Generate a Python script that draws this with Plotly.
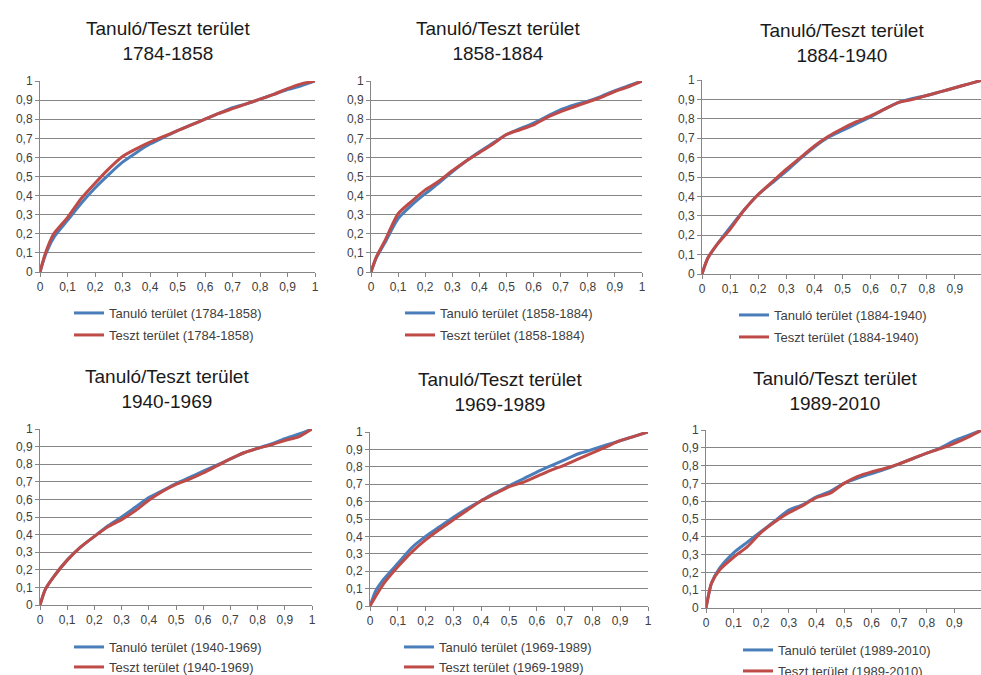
import plotly.graph_objects as go

# ---------------- data ----------------
X = [0, 0.02, 0.05, 0.1, 0.15, 0.2, 0.25, 0.3, 0.35, 0.4, 0.45, 0.5,
     0.55, 0.6, 0.65, 0.7, 0.75, 0.8, 0.85, 0.9, 0.95, 1]

periods = ["1784-1858", "1858-1884", "1884-1940", "1940-1969", "1969-1989", "1989-2010"]

tanulo_1784 = [0, 0.09, 0.18, 0.27, 0.36, 0.44, 0.51, 0.575, 0.625, 0.67, 0.705, 0.74,
               0.77, 0.80, 0.83, 0.86, 0.88, 0.905, 0.93, 0.955, 0.975, 1]
teszt_1784 = [0, 0.10, 0.20, 0.285, 0.385, 0.465, 0.54, 0.605, 0.645, 0.68, 0.71, 0.74,
              0.77, 0.80, 0.83, 0.855, 0.88, 0.905, 0.93, 0.96, 0.985, 1]

tanulo_1858 = [0, 0.075, 0.15, 0.28, 0.35, 0.41, 0.465, 0.525, 0.58, 0.63, 0.675, 0.72,
               0.75, 0.78, 0.815, 0.85, 0.875, 0.895, 0.92, 0.95, 0.975, 1]
teszt_1858 = [0, 0.08, 0.16, 0.305, 0.37, 0.43, 0.475, 0.53, 0.58, 0.625, 0.67, 0.72,
              0.745, 0.77, 0.81, 0.84, 0.865, 0.89, 0.915, 0.945, 0.97, 1]

tanulo_1884 = [0, 0.08, 0.145, 0.24, 0.33, 0.41, 0.47, 0.53, 0.595, 0.655, 0.705, 0.74,
               0.775, 0.81, 0.85, 0.885, 0.905, 0.92, 0.94, 0.96, 0.98, 1]
teszt_1884 = [0, 0.08, 0.145, 0.23, 0.33, 0.41, 0.475, 0.54, 0.60, 0.66, 0.71, 0.75,
              0.785, 0.815, 0.85, 0.885, 0.90, 0.92, 0.94, 0.96, 0.98, 1]

tanulo_1940 = [0, 0.09, 0.16, 0.255, 0.33, 0.39, 0.45, 0.50, 0.555, 0.61, 0.65, 0.69,
               0.725, 0.76, 0.795, 0.83, 0.865, 0.89, 0.915, 0.945, 0.97, 1]
teszt_1940 = [0, 0.09, 0.16, 0.255, 0.33, 0.39, 0.445, 0.485, 0.535, 0.595, 0.645, 0.685,
              0.715, 0.75, 0.79, 0.83, 0.865, 0.89, 0.91, 0.935, 0.955, 1]

tanulo_1969 = [0, 0.085, 0.155, 0.245, 0.335, 0.40, 0.455, 0.51, 0.56, 0.605, 0.65, 0.69,
               0.73, 0.77, 0.805, 0.84, 0.875, 0.90, 0.925, 0.95, 0.975, 1]
teszt_1969 = [0, 0.055, 0.13, 0.225, 0.31, 0.38, 0.44, 0.495, 0.55, 0.605, 0.645, 0.685,
              0.71, 0.745, 0.78, 0.81, 0.845, 0.88, 0.915, 0.95, 0.975, 1]

tanulo_1989 = [0, 0.14, 0.225, 0.31, 0.37, 0.43, 0.49, 0.55, 0.58, 0.625, 0.655, 0.70,
               0.73, 0.755, 0.78, 0.81, 0.84, 0.87, 0.90, 0.94, 0.97, 1]
teszt_1989 = [0, 0.14, 0.215, 0.285, 0.345, 0.425, 0.485, 0.535, 0.575, 0.62, 0.645, 0.70,
              0.74, 0.765, 0.785, 0.81, 0.84, 0.87, 0.895, 0.925, 0.96, 1]

tanulo_series = [tanulo_1784, tanulo_1858, tanulo_1884, tanulo_1940, tanulo_1969, tanulo_1989]
teszt_series = [teszt_1784, teszt_1858, teszt_1884, teszt_1940, teszt_1969, teszt_1989]

tick_vals = [0, 0.1, 0.2, 0.3, 0.4, 0.5, 0.6, 0.7, 0.8, 0.9, 1]
tick_text = ["0", "0,1", "0,2", "0,3", "0,4", "0,5", "0,6", "0,7", "0,8", "0,9", "1"]

# ---------------- layout (pixels) ----------------
W, H = 981, 675
# plot boxes: x at value 0, x at value 1, y at value 1, y at value 0
boxes = [
    (40, 315, 81, 272),
    (371, 642, 81, 272),
    (702, 983, 80, 274),
    (40, 312, 429, 605),
    (370, 648, 432, 606),
    (706, 982, 430, 608),
]
title_pos = [(168, 41), (498, 41), (842, 43), (167, 389), (500, 392), (835, 391)]
# legend: left x, centre y of first entry, centre y of second entry
legend_pos = [(69, 313, 335), (400, 313, 335), (734, 315, 337),
              (69, 647, 667), (399, 647, 667), (738, 650, 671)]

BLUE = "#4A7EBB"
RED = "#BE4B48"
GRID = "#868686"
FONT = "Liberation Sans, Arial, sans-serif"


def fx(px):
    return px / W


def fy(py):
    return 1 - py / H


fig = go.Figure()
annotations = []
layout_upd = {}
for i, (per, tan, tes) in enumerate(zip(periods, tanulo_series, teszt_series)):
    n = i + 1
    xa = "x" if n == 1 else f"x{n}"
    ya = "y" if n == 1 else f"y{n}"
    lg_a = "legend" if i == 0 else f"legend{2 * i + 1}"
    lg_b = f"legend{2 * i + 2}"
    fig.add_trace(go.Scatter(x=X, y=tan, mode="lines", name=f"Tanuló terület ({per})",
                             line=dict(color=BLUE, width=3, shape="spline", smoothing=0.6),
                             xaxis=xa, yaxis=ya, legend=lg_a))
    fig.add_trace(go.Scatter(x=X, y=tes, mode="lines", name=f"Teszt terület ({per})",
                             line=dict(color=RED, width=3, shape="spline", smoothing=0.6),
                             xaxis=xa, yaxis=ya, legend=lg_b))

    x0, x1, yt, yb = boxes[i]
    right_px = min(x1, W)
    xmax = (right_px - x0) / (x1 - x0)
    xkey = "xaxis" if n == 1 else f"xaxis{n}"
    ykey = "yaxis" if n == 1 else f"yaxis{n}"
    layout_upd[xkey] = dict(domain=[fx(x0), fx(right_px)], range=[0, xmax], anchor=ya,
                            tickvals=tick_vals, ticktext=tick_text, showgrid=False,
                            zeroline=False, showline=True, linecolor=GRID, linewidth=1,
                            ticks="outside", ticklen=4, tickcolor=GRID,
                            tickfont=dict(size=12, color="#404040", family=FONT),
                            fixedrange=True)
    layout_upd[ykey] = dict(domain=[fy(yb), fy(yt)], range=[0, 1], anchor=xa,
                            tickvals=tick_vals, ticktext=tick_text, showgrid=True,
                            gridcolor=GRID, gridwidth=1, zeroline=False, showline=True,
                            linecolor=GRID, linewidth=1, ticks="outside", ticklen=4,
                            tickcolor=GRID,
                            tickfont=dict(size=12, color="#404040", family=FONT),
                            fixedrange=True)
    lx, ly1, ly2 = legend_pos[i]
    for key, ly in ((lg_a, ly1), (lg_b, ly2)):
        layout_upd[key] = dict(x=fx(lx), y=fy(ly), xanchor="left", yanchor="middle",
                               font=dict(size=13, color="#404040", family=FONT),
                               bgcolor="rgba(0,0,0,0)", borderwidth=0)
    tx, ty = title_pos[i]
    annotations.append(dict(x=fx(tx), y=fy(ty), xref="paper", yref="paper",
                            text=f"Tanuló/Teszt terület<br>{per}", showarrow=False,
                            xanchor="center", yanchor="middle",
                            font=dict(size=19, color="#1a1a1a", family=FONT, weight="normal")))

fig.update_layout(**layout_upd)
fig.update_layout(width=W, height=H,
                  margin=dict(l=0, r=0, t=0, b=0, pad=0, autoexpand=False),
                  paper_bgcolor="white", plot_bgcolor="white",
                  annotations=annotations, showlegend=True)

fig.write_html("out.html")
